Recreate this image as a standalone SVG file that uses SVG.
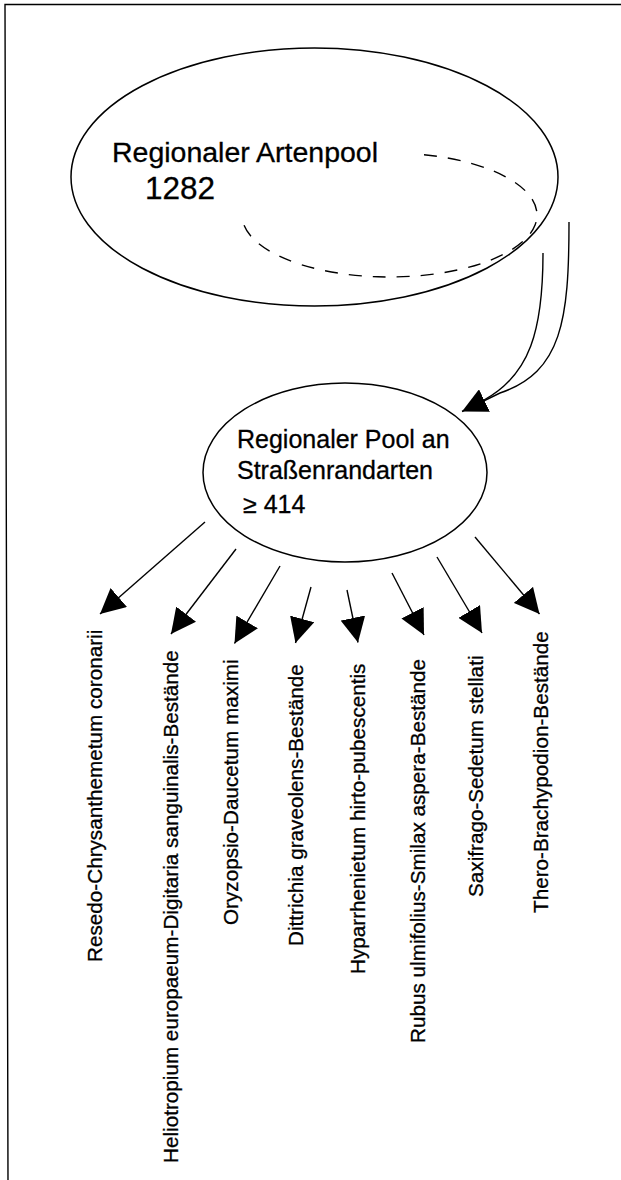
<svg xmlns="http://www.w3.org/2000/svg" width="621" height="1180" viewBox="0 0 621 1180">
<style>
.ln{fill:none;stroke:#000;stroke-width:1.4}
.ell{fill:none;stroke:#000;stroke-width:1.5}
.dash{fill:none;stroke:#000;stroke-width:1.4;stroke-dasharray:13 11}
.t{font-family:"Liberation Sans",Arial,sans-serif;fill:#000;stroke:#000;stroke-width:0.3}
.lab{font-family:"Liberation Sans",Arial,sans-serif;font-size:20.7px;fill:#000;stroke:#000;stroke-width:0.3}
</style>
<defs>
<marker id="ah" viewBox="0 0 25 25" markerWidth="25" markerHeight="25" refX="25" refY="12.5" orient="auto" markerUnits="userSpaceOnUse">
<path d="M0,0 L25,12.5 L0,25 Z" fill="#000"/>
</marker>
</defs>
<rect width="621" height="1180" fill="#fff"/>
<path d="M621,4.5 L5,4.5 L8,1180" class="ln"/>
<g id="node-regionaler-artenpool">
<ellipse cx="314.5" cy="177" rx="243.5" ry="129" class="ell"/>
<path d="M424,154.7 A147.5,62 0 1 1 242,215" class="dash"/>
<text x="112" y="162" class="t" font-size="27" textLength="266" lengthAdjust="spacingAndGlyphs">Regionaler Artenpool</text>
<text x="145" y="199" class="t" font-size="31.5">1282</text>
</g>
<g id="node-strassenrand-pool">
<ellipse cx="345" cy="472.5" rx="142" ry="89.5" class="ell"/>
<text x="237" y="448" class="t" font-size="25">Regionaler Pool an</text>
<text x="237" y="479" class="t" font-size="25">Straßenrandarten</text>
<text x="243" y="513" class="t" font-size="25">≥ 414</text>
</g>
<g id="connectors">
<path d="M569,222 C569,320 562,372 500,393 L462,411.5" class="ln" marker-end="url(#ah)"/>
<path d="M543,253 C543,330 530,375 484,400" class="ln"/>
<line x1="205" y1="522" x2="100" y2="614" class="ln" marker-end="url(#ah)"/>
<line x1="236" y1="549" x2="171" y2="634" class="ln" marker-end="url(#ah)"/>
<line x1="280" y1="566" x2="234.5" y2="643.5" class="ln" marker-end="url(#ah)"/>
<line x1="311" y1="587" x2="295.5" y2="643" class="ln" marker-end="url(#ah)"/>
<line x1="347" y1="590" x2="358" y2="642.5" class="ln" marker-end="url(#ah)"/>
<line x1="392" y1="573" x2="424" y2="635" class="ln" marker-end="url(#ah)"/>
<line x1="437" y1="557" x2="482" y2="633" class="ln" marker-end="url(#ah)"/>
<line x1="475" y1="537" x2="539.5" y2="614" class="ln" marker-end="url(#ah)"/>
</g>
<g id="node-resedo"><text class="lab" transform="translate(102,962) rotate(-90)">Resedo-Chrysanthemetum coronarii</text></g>
<g id="node-heliotropium"><text class="lab" transform="translate(178,1163) rotate(-90)">Heliotropium europaeum-Digitaria sanguinalis-Bestände</text></g>
<g id="node-oryzopsio"><text class="lab" transform="translate(238,925) rotate(-90)">Oryzopsio-Daucetum maximi</text></g>
<g id="node-dittrichia"><text class="lab" transform="translate(303,946) rotate(-90)">Dittrichia graveolens-Bestände</text></g>
<g id="node-hyparrhenietum"><text class="lab" transform="translate(365,974) rotate(-90)">Hyparrhenietum hirto-pubescentis</text></g>
<g id="node-rubus"><text class="lab" transform="translate(425,1043) rotate(-90)">Rubus ulmifolius-Smilax aspera-Bestände</text></g>
<g id="node-saxifrago"><text class="lab" transform="translate(483,897) rotate(-90)">Saxifrago-Sedetum stellati</text></g>
<g id="node-thero"><text class="lab" transform="translate(548,913) rotate(-90)">Thero-Brachypodion-Bestände</text></g>
</svg>
